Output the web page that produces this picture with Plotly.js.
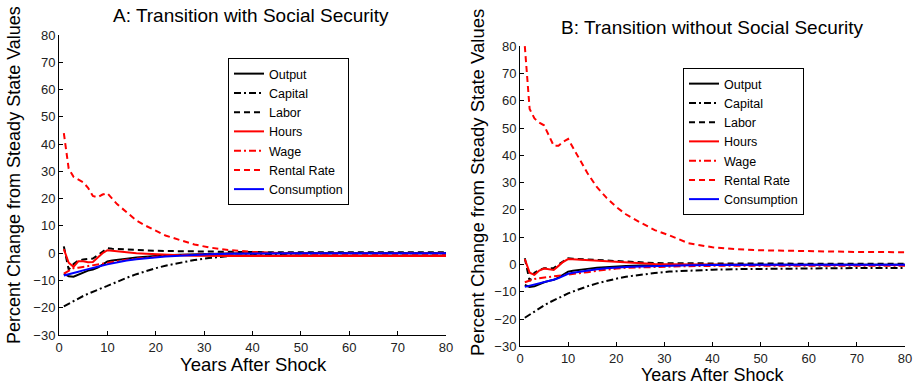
<!DOCTYPE html>
<html>
<head>
<meta charset="utf-8">
<script src="https://cdn.plot.ly/plotly-3.0.1.min.js"></script>
<style>html,body{margin:0;padding:0;background:#fff;}#chart{width:913px;height:384px;}</style>
</head>
<body>
<div id="chart"></div>
<script>
const years = [1,2,3,4,5,6,7,8,9,10,11,12,14,16,18,20,22,25,28,31,35,40,45,50,60,70,80];

const seriesNames = ["Output","Capital","Labor","Hours","Wage","Rental Rate","Consumption"];

// Panel A: Transition with Social Security
const outputA      = [-7.5,-8.5,-8.6,-7.8,-7.0,-6.4,-6.0,-5.3,-4.2,-3.0,-2.7,-2.4,-2.0,-1.6,-1.3,-1.0,-0.8,-0.55,-0.35,-0.2,-0.1,0,0,0,0,0,0];
const capitalA     = [-19.5,-18.5,-17.5,-16.6,-15.7,-14.9,-14.1,-13.4,-12.7,-12.0,-11.2,-10.5,-9.0,-7.7,-6.5,-5.5,-4.6,-3.5,-2.5,-1.8,-1.1,-0.6,-0.3,-0.15,0,0,0];
const laborA       = [2.5,-6.0,-4.0,-2.7,-2.3,-2.1,-2.0,-0.8,0.6,1.8,1.6,1.5,1.3,1.1,1.0,0.9,0.8,0.7,0.6,0.5,0.45,0.4,0.35,0.3,0.3,0.3,0.3];
const hoursA       = [1.5,-3.5,-5.0,-3.0,-3.0,-3.3,-3.2,-1.5,0.0,1.1,0.9,0.7,0.3,0.0,-0.2,-0.4,-0.6,-0.8,-0.9,-1.0,-1.0,-1.0,-1.0,-1.0,-1.0,-1.0,-1.0];
const wageA        = [-7.5,-6.5,-5.5,-5.3,-5.0,-4.8,-4.5,-4.2,-3.8,-3.5,-3.2,-2.9,-2.4,-2.0,-1.6,-1.3,-1.0,-0.7,-0.5,-0.3,-0.2,-0.1,0,0,0,0,0];
const rentalA      = [44,31,28,27,26,24,21,20.5,21.5,22,20,18,15,12,10,8.2,6.5,4.8,3.2,2.1,1.2,0.5,0,-0.3,-0.5,-0.6,-0.6];
const consumptionA = [-8.2,-7.8,-7.3,-6.8,-6.3,-5.8,-5.3,-4.9,-4.5,-4.1,-3.7,-3.3,-2.7,-2.2,-1.8,-1.5,-1.2,-0.9,-0.6,-0.4,-0.2,-0.1,0,0,0,0,0];

// Panel B: Transition without Social Security
const outputB      = [-7.5,-8.2,-8.0,-7.2,-6.5,-6.0,-5.6,-4.8,-3.7,-2.6,-2.3,-2.0,-1.6,-1.2,-0.9,-0.7,-0.55,-0.4,-0.3,-0.2,-0.15,-0.1,-0.1,-0.1,-0.1,-0.1,-0.1];
const capitalB     = [-19.5,-18.3,-17.1,-16.0,-15.0,-14.0,-13.1,-12.2,-11.4,-10.6,-9.9,-9.2,-8.0,-6.9,-6.0,-5.2,-4.5,-3.7,-3.1,-2.6,-2.2,-1.9,-1.7,-1.6,-1.4,-1.3,-1.3];
const laborB       = [2.3,-6.0,-3.0,-2.0,-1.4,-1.3,-1.3,0.0,1.3,2.3,2.1,2.0,1.7,1.5,1.3,1.1,0.9,0.7,0.55,0.45,0.4,0.35,0.3,0.3,0.3,0.3,0.3];
const hoursB       = [2.0,-3.0,-3.8,-2.2,-1.5,-1.8,-2.0,-0.5,1.0,2.0,1.9,1.8,1.5,1.3,1.1,0.9,0.6,0.4,0.2,0.1,0.0,-0.1,-0.1,-0.15,-0.2,-0.2,-0.2];
const wageB        = [-6.5,-5.8,-5.3,-5.0,-4.8,-4.6,-4.4,-4.2,-4.0,-3.8,-3.6,-3.4,-2.8,-2.3,-1.8,-1.5,-1.2,-1.0,-0.8,-0.7,-0.6,-0.5,-0.5,-0.5,-0.5,-0.5,-0.5];
const rentalB      = [80,57,53.5,52,51,47.5,43.5,43.5,45,46,43,40,33.5,28.3,24.4,21.1,18.4,15.4,12.6,10.7,7.8,6.3,5.6,5.2,4.8,4.6,4.5];
const consumptionB = [-8.2,-7.8,-7.4,-7.0,-6.6,-6.2,-5.6,-5.0,-4.2,-3.4,-3.0,-2.7,-2.2,-1.7,-1.4,-1.1,-0.9,-0.7,-0.5,-0.4,-0.3,-0.2,-0.1,-0.1,-0.1,-0.1,-0.1];

const xTickVals = [0,10,20,30,40,50,60,70,80];
const yTickVals = [-30,-20,-10,0,10,20,30,40,50,60,70,80];

const styles = [
  {color:"#000000", dash:"solid"},
  {color:"#000000", dash:"7px,3px,2px,3px"},
  {color:"#000000", dash:"6px,4px"},
  {color:"#ff0000", dash:"solid"},
  {color:"#ff0000", dash:"7px,3px,2px,3px"},
  {color:"#ff0000", dash:"6px,4px"},
  {color:"#0000ff", dash:"solid"}
];

const panelA = [outputA,capitalA,laborA,hoursA,wageA,rentalA,consumptionA];
const panelB = [outputB,capitalB,laborB,hoursB,wageB,rentalB,consumptionB];

const traces = [];
panelA.forEach((ys,i)=>traces.push({
  x: years, y: ys, name: seriesNames[i], type:"scatter", mode:"lines",
  xaxis:"x", yaxis:"y", legend:"legend",
  line:{color:styles[i].color, dash:styles[i].dash, width:2}
}));
panelB.forEach((ys,i)=>traces.push({
  x: years, y: ys, name: seriesNames[i], type:"scatter", mode:"lines",
  xaxis:"x2", yaxis:"y2", legend:"legend2",
  line:{color:styles[i].color, dash:styles[i].dash, width:2}
}));

const W = 913, H = 384;
const px = v => v / W;
const py = v => 1 - v / H;

const font = "Liberation Sans, Arial, sans-serif";

const axisBase = {
  showline:true, linecolor:"#000", linewidth:1, mirror:false,
  ticks:"inside", ticklen:4, tickcolor:"#000", tickwidth:1,
  showgrid:false, zeroline:false,
  tickfont:{family:font, size:13, color:"#222"},
  fixedrange:true
};

const layout = {
  width:W, height:H,
  margin:{l:0,r:0,t:0,b:0},
  paper_bgcolor:"#fff", plot_bgcolor:"#fff",
  showlegend:true,
  xaxis: Object.assign({}, axisBase, {domain:[px(59),px(446)], range:[0,80], tickvals:xTickVals, anchor:"y"}),
  yaxis: Object.assign({}, axisBase, {domain:[py(335),py(35)], range:[-30,80], tickvals:yTickVals, anchor:"x"}),
  xaxis2: Object.assign({}, axisBase, {domain:[px(520),px(905)], range:[0,80], tickvals:xTickVals, anchor:"y2"}),
  yaxis2: Object.assign({}, axisBase, {domain:[py(346.4),py(46.1)], range:[-30,80], tickvals:yTickVals, anchor:"x2"}),
  legend:{x:px(228), y:py(58), xanchor:"left", yanchor:"top", bgcolor:"#fff", bordercolor:"#000", borderwidth:1,
          font:{family:font, size:12.5, color:"#000"}, tracegroupgap:0},
  legend2:{x:px(683), y:py(68), xanchor:"left", yanchor:"top", bgcolor:"#fff", bordercolor:"#000", borderwidth:1,
          font:{family:font, size:12.5, color:"#000"}, tracegroupgap:0},
  annotations:[
    {text:"A: Transition with Social Security", x:px(251), y:py(16), xref:"paper", yref:"paper", xanchor:"center", yanchor:"middle", showarrow:false, font:{family:font,size:19,color:"#000"}},
    {text:"B: Transition without Social Security", x:px(712), y:py(28), xref:"paper", yref:"paper", xanchor:"center", yanchor:"middle", showarrow:false, font:{family:font,size:19,color:"#000"}},
    {text:"Years After Shock", x:px(254), y:py(364), xref:"paper", yref:"paper", xanchor:"center", yanchor:"middle", showarrow:false, font:{family:font,size:18.5,color:"#000"}},
    {text:"Years After Shock", x:px(712), y:py(375), xref:"paper", yref:"paper", xanchor:"center", yanchor:"middle", showarrow:false, font:{family:font,size:18,color:"#000"}},
    {text:"Percent Change from Steady State Values", x:px(14), y:py(175), xref:"paper", yref:"paper", xanchor:"center", yanchor:"middle", textangle:-90, showarrow:false, font:{family:font,size:18,color:"#000"}},
    {text:"Percent Change from Steady State Values", x:px(478), y:py(182), xref:"paper", yref:"paper", xanchor:"center", yanchor:"middle", textangle:-90, showarrow:false, font:{family:font,size:18.5,color:"#000"}}
  ]
};

Plotly.newPlot("chart", traces, layout, {staticPlot:true, displayModeBar:false});
</script>
</body>
</html>
